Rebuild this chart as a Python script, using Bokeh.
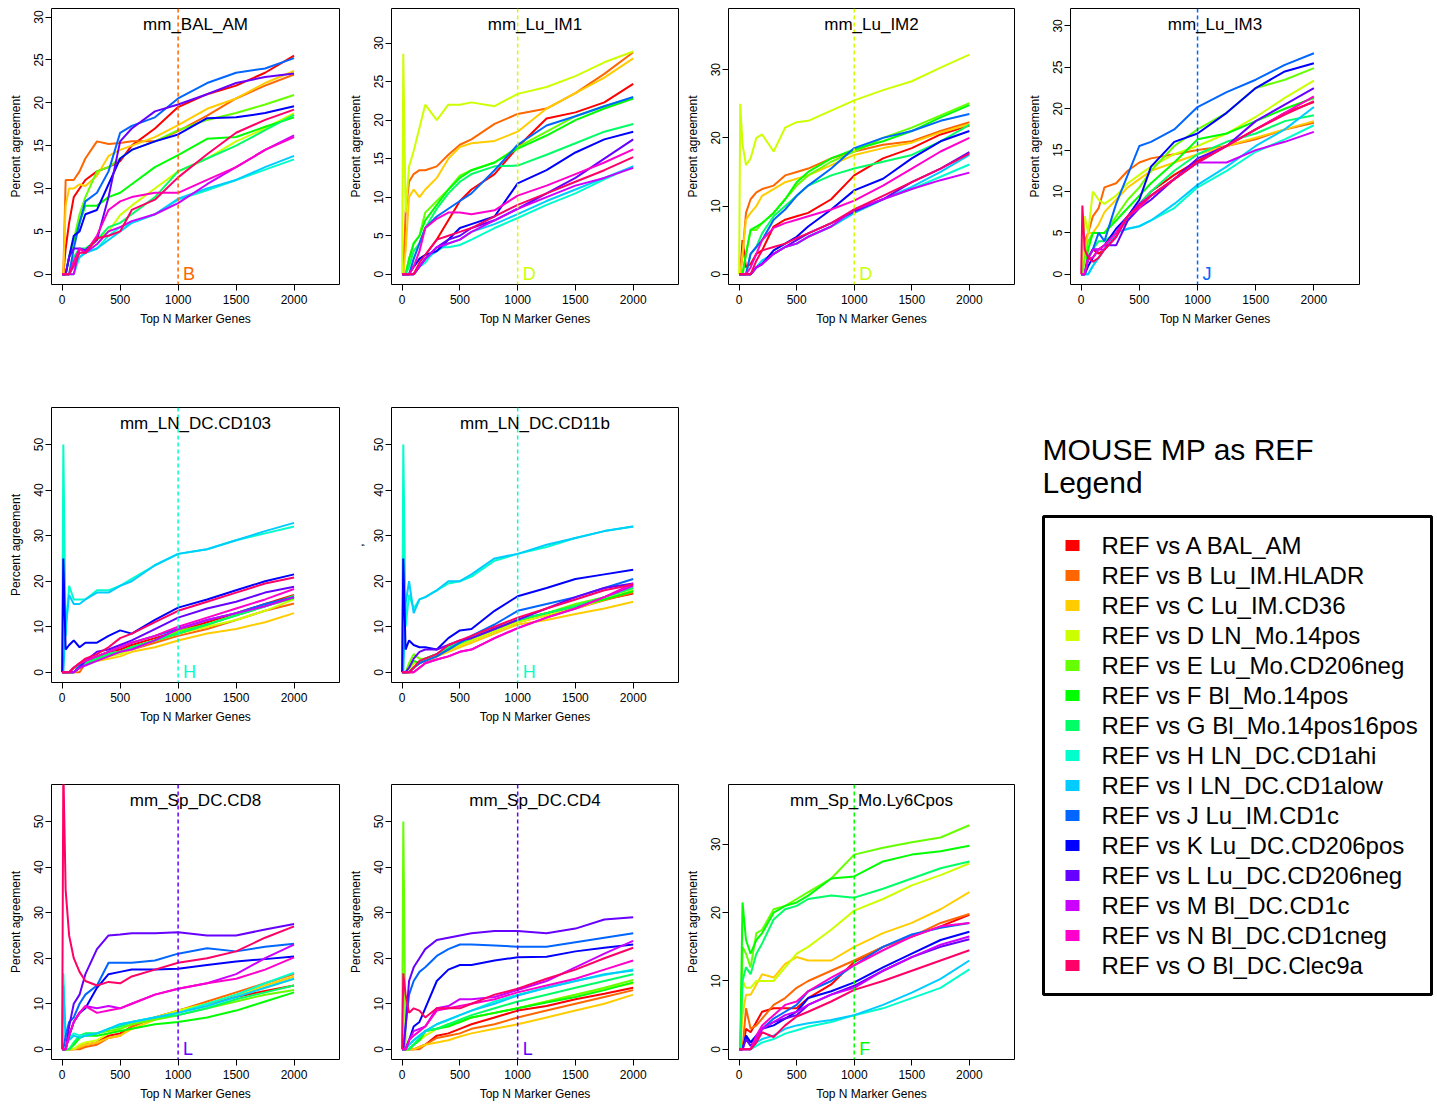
from bokeh.plotting import figure
from bokeh.models import FixedTicker, Range1d, Span, Label
from bokeh.layouts import row, column
from bokeh.core.properties import value
from bokeh.embed import file_html
from bokeh.resources import INLINE

FONT = "Liberation Sans"

# x positions (Top N marker genes) at which the curves were read
X = [0, 10, 30, 60, 100, 150, 200, 300, 400, 500, 600, 800, 1000, 1250, 1500, 1750, 2000]

LETTERS = ["A", "B", "C", "D", "E", "F", "G", "H", "I", "J", "K", "L", "M", "N", "O"]
SAMPLES = ["BAL_AM", "Lu_IM.HLADR", "Lu_IM.CD36", "LN_Mo.14pos", "Lu_Mo.CD206neg",
           "Bl_Mo.14pos", "Bl_Mo.14pos16pos", "LN_DC.CD1ahi", "LN_DC.CD1alow",
           "Lu_IM.CD1c", "Lu_DC.CD206pos", "Lu_DC.CD206neg", "Bl_DC.CD1c",
           "Bl_DC.CD1cneg", "Bl_DC.Clec9a"]
COLORS = ["#FF0000", "#FF6600", "#FFCC00", "#CCFF00", "#66FF00", "#00FF00", "#00FF66",
          "#00FFCC", "#00CCFF", "#0066FF", "#0000FF", "#6600FF", "#CC00FF", "#FF00CC",
          "#FF0066"]

# percent agreement, one row per comparison A..O
mm_BAL_AM = [
    [0, 0, 3, 6, 9, 10, 11, 12, 12.5, 13.2, 15, 17, 19.5, 21, 22, 23.5, 25.5],
    [0, 0, 11, 11, 11, 12, 13.5, 15.5, 15.2, 15.3, 15.5, 15.5, 16.7, 18.5, 20.5, 22, 23.3],
    [0, 0, 8, 10, 10, 10.5, 10.3, 11.5, 13.8, 14.5, 15, 16, 17.4, 19.3, 20.5, 22.3, 23.7],
    [0, 0, 0, 0, 2, 3, 2.5, 4, 5, 6.9, 8, 10, 12, 13.5, 15.5, 17, 18.8],
    [0, 0, 0, 2, 4, 7, 9, 12, 12.5, 13.5, 14.5, 15.5, 16.8, 18, 18.8, 19.8, 20.9],
    [0, 0, 0, 2, 4, 6, 8, 8, 9, 9.5, 10.5, 12.5, 13.9, 15.8, 16, 17.2, 18.3],
    [0, 0, 0, 0, 2, 3, 3, 4, 5.5, 6, 7, 9, 12, 13.5, 15, 16.8, 18.6],
    [0, 0, 0, 0, 0, 2, 2.5, 3, 4.5, 5.5, 6, 7, 8.7, 9.8, 11, 12.2, 13.4],
    [0, 0, 0, 0, 1, 2, 2.5, 3, 4, 5, 6, 7, 8.8, 10, 11, 12.5, 13.8],
    [0, 0, 0, 0, 3, 6, 8.5, 9.5, 12, 16.5, 17.3, 18.3, 20.5, 22.3, 23.5, 24, 25.2],
    [0, 0, 0, 2, 4.5, 5, 7, 7.5, 10.5, 13.5, 14.5, 15.5, 16.3, 18.2, 18.3, 18.8, 19.6],
    [0, 0, 0, 2, 3, 3, 2.8, 4, 9, 15.5, 17, 19, 19.8, 21, 22.3, 23, 23.4],
    [0, 0, 0, 0, 0, 3, 2.5, 3.5, 5, 5.5, 6.2, 7, 8.3, 10.5, 12.5, 14.5, 16.2],
    [0, 0, 0, 0, 1.5, 3, 2.5, 4.5, 7.5, 8.5, 9, 9.5, 9.5, 11, 12.5, 14.5, 16.0],
    [0, 0, 0, 0, 1, 2.5, 2.5, 4.2, 4.5, 5, 7.5, 8.7, 11.3, 14, 16.5, 18, 19.2],
]

mm_Lu_IM1 = [
    [0, 0, 0, 0, 1, 2, 2.5, 4.5, 7, 9.5, 11, 13, 16.5, 20.2, 21, 22.3, 24.7],
    [0, 0, 8, 12, 13, 13.5, 13.5, 14, 15.5, 16.8, 17.5, 19.5, 20.8, 21.5, 23.5, 26, 28.8],
    [0, 0, 3, 10, 11, 10, 11, 12.5, 15, 16.5, 17, 17.3, 18.5, 21.5, 23.5, 25.5, 28.0],
    [0, 28.6, 8, 14, 16, 19, 22, 20, 22, 22, 22.3, 21.8, 23.4, 24.3, 25.7, 27.5, 28.9],
    [0, 0, 0, 2, 4, 5, 8, 9.5, 11, 12.8, 13.5, 14.5, 16.5, 18.5, 20.5, 21.8, 22.9],
    [0, 0, 0, 2, 4, 5, 7, 9, 11, 12.5, 13.5, 14.5, 16.3, 18, 20, 21.5, 22.8],
    [0, 0, 0, 1, 3, 4, 6, 8.5, 10.5, 12, 13, 14, 14.1, 15.5, 17, 18.5, 19.5],
    [0, 0, 0, 0, 0, 1, 1.5, 3.5, 3.5, 3.8, 4.5, 6, 7.3, 9, 10.5, 12.3, 14.0],
    [0, 0, 0, 0, 0, 1, 2, 3, 4, 4.5, 5.5, 6.5, 7.8, 9.5, 11, 12.5, 14.0],
    [0, 0, 0, 0, 2, 4, 6, 7.5, 8.5, 9.5, 10.5, 13.5, 16.8, 19.3, 20.5, 21.8, 23.0],
    [0, 0, 0, 0, 1, 2, 2.5, 3, 4.5, 6, 6.5, 7.5, 11.8, 13.5, 15.8, 17.5, 18.5],
    [0, 0, 0, 0, 0, 1, 2, 3.5, 4.5, 5, 6, 7, 8.5, 10.5, 12.5, 15, 17.5],
    [0, 0, 0, 0, 0, 1, 2, 3.5, 4, 4.5, 5.5, 7, 8.5, 10, 11.5, 12.5, 13.8],
    [0, 0, 0, 0, 1, 3, 6, 7.2, 8, 8, 7.8, 8.3, 10.2, 11.5, 13, 14.5, 16.2],
    [0, 0, 0, 0, 0, 1.5, 2.5, 4.5, 5, 5.5, 6, 7.5, 9, 10.5, 12, 13.5, 15.2],
]

mm_Lu_IM2 = [
    [0, 0, 5, 1, 1.5, 3, 3.5, 7, 8, 8.5, 9, 11, 14.5, 17, 18.5, 20.5, 21.8],
    [0, 0, 3, 9, 11, 12, 12.5, 13, 14.5, 15, 15.5, 17, 18, 19, 19.5, 21, 22.3],
    [0, 0, 3, 8, 9, 10, 11.5, 12.5, 13.5, 14, 14.5, 16, 17.5, 18.5, 19.3, 20.8, 22.0],
    [0, 25, 19, 16, 17, 20, 20.5, 18, 21.5, 22.3, 22.5, 24, 25.5, 27, 28.3, 30.3, 32.2],
    [0, 0, 0, 3, 6.5, 6.5, 7.5, 9, 11, 13, 14.5, 16.5, 18, 20, 21.5, 23.3, 25.1],
    [0, 0, 0, 3, 6.5, 7, 7.5, 9, 11, 13.5, 15, 17, 18.3, 19.5, 21, 23, 24.8],
    [0, 0, 0, 0, 3, 4, 6, 8.5, 10, 11.5, 13, 14.5, 15.5, 16.5, 17.5, 19.5, 21.9],
    [0, 0, 0, 0, 0, 1, 2, 3, 4, 4.5, 5.5, 7, 9, 11, 12.5, 14.3, 16.1],
    [0, 0, 0, 0, 0, 1, 2, 3, 4, 4.5, 5.5, 7, 9, 11, 12.8, 15, 17.5],
    [0, 0, 0, 0, 3, 4, 5, 8, 9.5, 11.5, 13, 15.5, 18.5, 20, 21, 22.5, 23.5],
    [0, 0, 0, 0, 0, 1, 1.5, 3.5, 4.5, 5.5, 7, 9.5, 12.3, 14, 17, 19.5, 21],
    [0, 0, 0, 0, 0, 1, 1.5, 3, 4, 5, 6, 7.5, 9.2, 11, 13.5, 15.5, 17.9],
    [0, 0, 0, 0, 0, 1, 1.5, 3, 4, 4.5, 5.5, 7, 9.5, 11, 12.5, 13.8, 14.9],
    [0, 0, 0, 0, 1, 3, 5, 6.8, 7.5, 8, 8.5, 9.5, 10.8, 13, 15.5, 18, 20],
    [0, 0, 0, 0, 0, 2, 3.5, 4, 4.5, 5.3, 6, 7.5, 9.5, 11.5, 13.5, 15.5, 17.7],
]

mm_Lu_IM3 = [
    [0, 0, 3, 2, 3, 2.5, 3, 5, 7, 8.5, 10, 12, 13.7, 15.5, 17.5, 19.5, 20.8],
    [0, 0, 4, 5, 7, 8, 10.5, 11, 12.5, 13.5, 14, 14.5, 15, 15.5, 16.3, 17.5, 18.3],
    [0, 0, 3, 5, 5, 6, 7.5, 9, 10.5, 11.5, 12.5, 13.5, 14.5, 15.5, 16.5, 17.5, 18.5],
    [0, 0, 7, 5, 10, 9, 8.5, 9.5, 11, 12, 13, 14.5, 15.5, 17, 19, 21.3, 23.4],
    [0, 0, 2, 4, 5, 5, 5, 7, 9, 10.5, 12.5, 15.5, 17.5, 19.5, 22.5, 23.5, 24.9],
    [0, 0, 0, 3, 5, 5, 5, 6.5, 8, 9.5, 11, 13.5, 16.3, 17, 18.5, 20, 21.3],
    [0, 0, 0, 2, 3, 4, 4, 5, 6.5, 8.5, 10, 12.5, 14.5, 16, 17, 18.5, 19.2],
    [0, 0, 0, 0, 1, 2, 3, 5, 5.5, 5.8, 6.5, 8, 10.5, 12.5, 14.8, 16.3, 18],
    [0, 0, 0, 0, 1, 2, 3, 5, 5.5, 5.8, 6.5, 8.5, 10.8, 13, 15.5, 17.5, 20.2],
    [0, 0, 0, 2, 3, 5, 4, 8.5, 12, 15.5, 16, 17.5, 20.2, 22, 23.5, 25.3, 26.7],
    [0, 0, 0, 1, 2, 3, 3.5, 5.5, 7, 9, 13, 16, 17, 19.5, 22.5, 24.5, 25.5],
    [0, 0, 0, 2, 3, 3, 3.5, 3.5, 6.5, 8, 9, 11.5, 14, 15.5, 18.5, 20.5, 22.5],
    [0, 0, 0, 2, 3, 3, 3, 4.5, 7, 8.5, 9.5, 11.5, 13.5, 13.5, 15, 16, 17.2],
    [0, 0, 0, 2, 2, 3, 3.5, 5, 7, 8, 9.5, 11.5, 13.5, 15.5, 17.5, 19.5, 21.5],
    [0, 8.3, 3, 2, 1.5, 2, 3, 4.5, 7, 8.3, 9.5, 11.5, 13.5, 15.5, 17.5, 19.3, 20.9],
]

mm_LN_DC_CD103 = [
    [0, 0, 0, 0, 1, 2, 2.5, 3.5, 4.5, 5, 6, 7.5, 9, 11, 13, 15, 17],
    [0, 0, 0, 0, 0, 0, 2, 3, 4, 4.5, 5, 6.5, 8, 9.5, 11.5, 13.5, 15.1],
    [0, 0, 0, 0, 0, 1, 2, 2.5, 3, 3.5, 4.5, 5.5, 7, 8.5, 9.5, 11, 13],
    [0, 0, 0, 0, 0, 1, 2, 2.5, 3.5, 4, 5, 7, 8.5, 10, 11.5, 13.5, 16],
    [0, 0, 0, 0, 1, 1, 2, 3, 4, 4.5, 5.5, 7, 9, 10.5, 12.5, 14.5, 16.5],
    [0, 0, 0, 0, 0, 1, 2, 3, 4, 4.5, 5.5, 7, 8.5, 10.5, 12.5, 14.5, 16.3],
    [0, 0, 0, 0, 0, 1, 2, 3, 4, 4.5, 5.5, 7, 8.5, 10.5, 12.5, 14.5, 16.8],
    [0, 50, 8, 19, 16, 16, 16, 18, 18, 19, 20.5, 23.5, 26, 27, 29, 30.5, 32],
    [0, 0, 10, 17, 15, 15, 16, 17.5, 17.5, 19, 20, 23.5, 26, 27, 29, 31, 32.8],
    [0, 0, 0, 0, 0, 1.5, 2.5, 3.5, 4.5, 5.5, 6.5, 8, 9.5, 11.5, 13, 15, 16.5],
    [0, 25, 5, 6, 7, 5.5, 6.5, 6.5, 8, 9.2, 8.5, 11.5, 14.2, 16, 18, 20, 21.5],
    [0, 0, 0, 0, 0, 1, 2.5, 4.5, 5, 6, 7, 9.5, 12, 14, 15.5, 17.5, 18.8],
    [0, 0, 0, 0, 0, 1, 1.5, 2.5, 3.5, 4.5, 5, 7, 9.5, 11.5, 13, 14.5, 16.5],
    [0, 0, 0, 0, 1, 2, 2.5, 3.5, 4.5, 5.5, 6.5, 8, 10, 12, 14, 16, 18.3],
    [0, 0, 0, 0, 1, 2, 3, 4, 5.5, 7.5, 8.5, 11, 13.5, 15.5, 17.5, 19.5, 20.8],
]

mm_LN_DC_CD11b = [
    [0, 0, 0, 0, 1, 2, 3, 4, 5.5, 6.5, 7.5, 9.5, 11.5, 13, 14.5, 16, 17.3],
    [0, 0, 0, 0, 1, 2, 2.5, 3.5, 5, 6, 7, 9, 11, 12.5, 14, 15.8, 17.5],
    [0, 0, 0, 0, 0, 1, 2, 3.5, 4.5, 5.5, 6.5, 8.5, 10.5, 11.5, 12.8, 14, 15.5],
    [0, 0, 0, 0, 2, 2, 2.5, 3.5, 5, 6, 7, 9, 11, 12.5, 14, 16, 18],
    [0, 0, 0, 2, 4, 3, 3, 4, 5, 6.5, 7.5, 9.5, 11.5, 13, 15, 16.5, 18.5],
    [0, 0, 0, 1, 2.5, 2, 3, 4, 5, 6.5, 7.5, 9.5, 11.5, 13, 14.5, 16, 17.8],
    [0, 0, 0, 0, 1, 2, 3, 4, 5.5, 6.5, 7.5, 9.5, 11.5, 13, 14.5, 16.5, 18.5],
    [0, 50, 10, 17, 14, 16, 16.5, 18, 19.5, 20, 21, 24.5, 26, 27.5, 29.5, 31, 32],
    [0, 0, 15, 20, 13, 16, 16.5, 18, 20, 20, 21.5, 25, 26, 28, 29.5, 31, 32],
    [0, 0, 0, 0, 1, 2, 2.5, 3.5, 5, 6.5, 8, 10.5, 13.5, 15, 16.5, 18.5, 20.5],
    [0, 25, 5, 7, 6, 5.5, 5.5, 5, 7.5, 9.2, 9.5, 13.5, 16.7, 18.5, 20.5, 21.5, 22.5],
    [0, 0, 0, 1, 3, 4.5, 5, 5, 6, 7, 7.5, 9.5, 11.5, 14, 16.5, 18.5, 19.5],
    [0, 0, 0, 0, 0, 1, 2, 2.8, 3.5, 4.5, 5, 7.5, 9.7, 12, 14, 16.5, 19],
    [0, 0, 0, 0, 0, 1, 2, 2.8, 3.5, 4.5, 5, 7.5, 9.7, 12, 14, 16.5, 19.5],
    [0, 0, 0, 0, 1, 2.5, 3, 4, 6, 7, 8, 10, 12, 14, 16, 18, 19.3],
]

mm_Sp_DC_CD8 = [
    [0, 0, 0, 0, 0, 0.5, 1, 1.5, 3, 3.5, 5, 7, 8.5, 10, 11.5, 12.8, 14],
    [0, 0, 0, 0, 0, 0, 0.5, 1, 2.5, 3, 5, 7, 8.5, 10.5, 12.5, 14.5, 16.5],
    [0, 0, 0, 0, 0, 0.5, 1, 1.5, 2.5, 3, 4.5, 6.5, 8.3, 10, 12, 14, 16],
    [0, 0, 0, 0, 0, 1, 1.5, 2, 3.5, 4.5, 5.5, 7, 8.5, 10, 12, 13.5, 15.5],
    [0, 0, 0, 0, 1, 2.5, 3, 3.5, 4, 4.5, 5.5, 6.5, 7.5, 9, 10.5, 12, 13],
    [0, 0, 0, 0, 1, 2.5, 3, 3, 3.5, 4, 4.5, 5.5, 6, 7, 8.5, 10.5, 12.5],
    [0, 0, 0, 0, 1.5, 3, 3.5, 3.5, 4.5, 5, 6, 7, 7.5, 9, 11, 12.5, 14],
    [0, 16.7, 3, 2.5, 3.5, 3, 3, 3.5, 4.5, 5.5, 6, 7, 8, 10, 12, 14.5, 16.8],
    [0, 14, 2, 2, 3, 2.5, 3, 3.5, 4.5, 5.5, 6, 7, 8, 9.5, 11.5, 13.5, 15.5],
    [0, 0, 3, 6, 7, 10, 12, 14, 19, 19, 19, 19.5, 21, 22.2, 21.5, 22.5, 23.2],
    [0, 0, 0, 3, 6, 8, 9, 13.5, 16.5, 17, 17.5, 17.5, 17.7, 18.5, 19.3, 19.8, 20.4],
    [0, 0, 0, 5, 10, 12, 16.5, 22, 25, 25.2, 25.5, 25.5, 25.7, 25, 25, 26.3, 27.5],
    [0, 0, 0, 3, 6, 8, 9.5, 9, 9.5, 9, 10, 12, 13.3, 14.5, 16.5, 20, 23],
    [0, 0, 0, 3, 6, 8, 9.5, 8, 8.5, 9, 10, 12, 13.3, 14.5, 15.5, 17.5, 20.2],
    [0, 62, 35, 25, 20, 17, 15, 14, 14.8, 14.5, 16, 17.5, 19, 20, 21.5, 24.5, 27],
]

mm_Sp_DC_CD4 = [
    [0, 0, 0, 0, 0, 0.5, 1, 3, 3.5, 4.5, 5.5, 7, 8.5, 9.5, 11, 12.2, 13.5],
    [0, 0, 0, 0, 0, 0, 1, 2.5, 3, 3.5, 4.5, 5.5, 7, 8.5, 10, 11.5, 13],
    [0, 0, 0, 0, 0, 0.5, 1, 1.5, 2, 2.8, 3.5, 4.5, 5.5, 7, 8.5, 10, 12],
    [0, 0, 0, 0, 1, 2, 3, 4.5, 5.5, 6, 7, 8, 9, 10.5, 12, 13.3, 14.5],
    [0, 50, 0, 0, 1, 2, 4, 4.5, 5.5, 6, 7, 8, 9, 10.5, 12, 13.5, 15.2],
    [0, 0, 0, 0, 1, 2, 4, 4.5, 5, 6, 7, 8, 9, 10.3, 11.5, 13, 14.7],
    [0, 0, 0, 0, 1, 2.5, 4, 4.5, 5.5, 6.5, 7.5, 9, 10.5, 12, 13.5, 15, 16.5],
    [0, 0, 0, 1, 2, 3, 4, 5.5, 6.5, 7.5, 8.5, 10.5, 12, 13.5, 15, 16.3, 17.5],
    [0, 0, 0, 1, 2, 3, 4, 5.5, 6.5, 7.5, 8.5, 10, 11.8, 13.5, 15, 16.5, 17.3],
    [0, 0, 5, 12, 15, 17, 18, 20.5, 22, 23, 23, 22.8, 22.5, 22.5, 23.5, 24.5, 25.5],
    [0, 0, 0, 2, 5, 6, 9, 15, 17.5, 18.5, 18.5, 19.5, 20.2, 20.3, 21.5, 22.3, 23],
    [0, 0, 5, 15, 18, 20, 22, 24, 24.5, 25, 25.5, 26, 26, 25.5, 26.5, 28.5, 29],
    [0, 0, 0, 2, 4, 4.5, 5, 9, 9.5, 11, 11, 11.5, 13, 15, 18, 21, 23.8],
    [0, 0, 0, 2, 3, 4, 5, 8.5, 9, 9.5, 10, 11, 12.5, 14, 15.5, 17.5, 19.5],
    [0, 16.7, 12, 8, 9, 8.5, 7, 9, 9, 9, 10, 12, 13.3, 15.5, 17.5, 20, 22.3],
]

mm_Sp_Mo_Ly6Cpos = [
    [0, 0, 0, 3, 2.5, 4, 5.5, 6, 6, 6, 7.5, 9.5, 12.8, 15, 16.5, 18, 19.7],
    [0, 0, 0, 6, 3, 3.5, 4.5, 6.5, 7.5, 9, 10, 11.5, 13, 15, 16.5, 18.5, 19.8],
    [0, 0, 5, 8, 8, 9.5, 11, 10.5, 12.5, 13.5, 13, 13, 15, 17, 18.5, 20.5, 23],
    [0, 0, 10, 9, 9, 10, 10, 10, 12, 14, 15, 17.5, 20.3, 22, 24, 25.5, 27.2],
    [0, 0, 15, 14, 12, 17, 17.5, 20.5, 21, 22, 23, 25, 28.5, 29.5, 30.3, 31, 32.8],
    [0, 0, 21.5, 16, 14, 16, 17, 20, 21, 21.5, 22.5, 25, 25.3, 27.5, 28.5, 29, 29.8],
    [0, 0, 10, 12, 11, 14, 15.5, 19, 20.5, 21, 22, 22.5, 22.2, 23.5, 25, 26.5, 27.5],
    [0, 0, 0, 0, 0, 0.5, 1, 1.5, 2.3, 2.8, 3.3, 4, 5, 6, 7.5, 9, 11.7],
    [0, 0, 0, 0, 0, 1, 1.5, 2, 3, 3.5, 3.8, 4.3, 5, 6.5, 8.3, 10.3, 13],
    [0, 0, 0, 2, 1, 2, 3, 4.5, 5.5, 6.5, 8.5, 10, 12.3, 15, 16.8, 17.8, 18.5],
    [0, 0, 0, 2, 1, 2, 3, 3.5, 4.5, 5.5, 7.5, 8.5, 9.8, 12, 14, 16, 17.2],
    [0, 0, 0, 1.5, 0.5, 1.5, 3, 4, 4.5, 5, 6.5, 8, 9.3, 11.5, 13.5, 15, 16.1],
    [0, 0, 0, 0, 0, 1.5, 3, 4, 5, 5.5, 6.5, 8, 9, 11.5, 13.5, 15.3, 16.5],
    [0, 0, 0, 0, 0, 2, 3.5, 5, 6.5, 7, 8.5, 10.5, 12.3, 14.5, 16.5, 18, 18.5],
    [0, 0, 0, 0, 0, 1, 2.5, 1.8, 3.5, 4.8, 5.5, 7, 8.7, 10, 11.5, 13, 14.5],
]

X_TICKS = [0, 500, 1000, 1500, 2000]
Y_TICKS_5 = [0, 5, 10, 15, 20, 25, 30]
Y_TICKS_10 = [0, 10, 20, 30]
Y_TICKS_50 = [0, 10, 20, 30, 40, 50]


def panel(title, data, mark, ymax, yticks, ylabel, bl, fw, br, bt, fh, bb, lab_so=4, ax_so=5):
    ylo, yhi = -0.04 * ymax, 1.04 * ymax
    p = figure(frame_width=fw, frame_height=fh,
               min_border_left=bl, min_border_right=br,
               min_border_top=bt, min_border_bottom=bb,
               x_range=Range1d(-92, 2392), y_range=Range1d(ylo, yhi),
               output_backend="svg", toolbar_location=None, tools="")
    p.title.visible = False
    p.grid.visible = False
    p.outline_line_color = "black"
    p.outline_line_width = 1
    p.outline_line_alpha = 1
    p.background_fill_color = "white"
    p.border_fill_color = "white"

    p.xaxis.ticker = FixedTicker(ticks=X_TICKS)
    p.yaxis.ticker = FixedTicker(ticks=yticks)
    p.xaxis.axis_label = "Top N Marker Genes"
    p.yaxis.axis_label = ylabel
    p.yaxis.major_label_orientation = "vertical"
    for ax in (p.xaxis[0], p.yaxis[0]):
        ax.axis_line_color = None
        ax.major_tick_out = 6
        ax.major_tick_in = 0
        ax.major_tick_line_color = "black"
        ax.minor_tick_line_color = None
        ax.major_label_text_font = FONT
        ax.major_label_text_font_size = "12px"
        ax.major_label_text_color = "black"
        ax.axis_label_text_font = FONT
        ax.axis_label_text_font_size = "12px"
        ax.axis_label_text_font_style = "normal"
        ax.axis_label_text_color = "black"
    p.xaxis.major_label_standoff = lab_so
    p.xaxis.axis_label_standoff = ax_so
    p.yaxis.major_label_standoff = 2
    p.yaxis.axis_label_standoff = 9

    for ys, col in zip(data, COLORS):
        p.line(X, ys, line_color=col, line_width=2)

    mcol = COLORS[LETTERS.index(mark)]
    p.add_layout(Span(location=1000, dimension="height", line_color=mcol,
                      line_dash="4 3", line_width=1.5))
    p.add_layout(Label(x=1000, y=0, text=mark, x_offset=5, text_align="left",
                       text_baseline="middle", text_color=mcol,
                       text_font=FONT, text_font_size="18px"))
    ppu = fh / (yhi - ylo)
    p.add_layout(Label(x=1150, y=yhi - 16 / ppu, text=title, text_align="center",
                       text_baseline="middle", text_color="black",
                       text_font=FONT, text_font_size="17px"))
    return p


YL = "Percent agreement"
# row 1  (border_left, frame_w, border_right, border_top, frame_h, border_bottom)
f1 = panel("mm_BAL_AM", mm_BAL_AM, "B", 29.8, Y_TICKS_5, YL, 51, 288, 6, 8, 276, 114)
f2 = panel("mm_Lu_IM1", mm_Lu_IM1, "D", 33.15, Y_TICKS_5, YL, 46, 287, 2, 8, 276, 114)
f3 = panel("mm_Lu_IM2", mm_Lu_IM2, "D", 37.47, Y_TICKS_10, YL, 48, 286, 6, 8, 276, 114)
f4 = panel("mm_Lu_IM3", mm_Lu_IM3, "J", 30.87, Y_TICKS_5, YL, 50, 289, 8, 8, 276, 114)
# row 2
f5 = panel("mm_LN_DC.CD103", mm_LN_DC_CD103, "H", 55.9, Y_TICKS_50, YL, 51, 288, 6, 9, 275, 93)
f6 = panel("mm_LN_DC.CD11b", mm_LN_DC_CD11b, "H", 55.9, Y_TICKS_50, ",", 46, 287, 2, 9, 275, 93)
# row 3
f7 = panel("mm_Sp_DC.CD8", mm_Sp_DC_CD8, "L", 55.9, Y_TICKS_50, YL, 51, 288, 6, 9, 275, 46)
f8 = panel("mm_Sp_DC.CD4", mm_Sp_DC_CD4, "L", 55.9, Y_TICKS_50, YL, 46, 287, 2, 9, 275, 46)
f9 = panel("mm_Sp_Mo.Ly6Cpos", mm_Sp_Mo_Ly6Cpos, "F", 37.27, Y_TICKS_10, YL, 48, 286, 6, 9, 275, 46)

# legend panel (pixel coordinates, origin at its top-left: screen x 1020, y 398)
LW, LH = 415, 707
leg = figure(width=LW, height=LH, x_range=Range1d(0, LW), y_range=Range1d(LH, 0),
             min_border_left=0, min_border_right=0, min_border_top=0, min_border_bottom=0,
             output_backend="svg", toolbar_location=None, tools="")
leg.title.visible = False
leg.axis.visible = False
leg.grid.visible = False
leg.outline_line_color = None
leg.background_fill_color = "white"
leg.border_fill_color = "white"

leg.text(x=[22, 22], y=[51, 84], text=["MOUSE MP as REF", "Legend"],
         text_font=value(FONT), text_font_size="30px", text_color="black",
         text_baseline="alphabetic")
leg.quad(left=[23], right=[411], top=[118], bottom=[596],
         fill_color=None, line_color="black", line_width=3)
labels = ["REF vs %s %s" % (l, s) for l, s in zip(LETTERS, SAMPLES)]
ys_sq = [147 + 30 * i for i in range(len(LETTERS))]
ys_tx = [147 + 30 * i for i in range(len(LETTERS))]
leg.rect(x=[52] * len(LETTERS), y=ys_sq, width=14, height=11,
         fill_color=COLORS, line_color=None)
leg.text(x=[81] * len(LETTERS), y=ys_tx, text=labels,
         text_font=value(FONT), text_font_size="24px", text_color="black",
         text_baseline="alphabetic")

page = column(row(f1, f2, f3, f4),
              row(column(row(f5, f6), row(f7, f8, f9)), leg))

open("out.html", "w").write(file_html(page, INLINE))
